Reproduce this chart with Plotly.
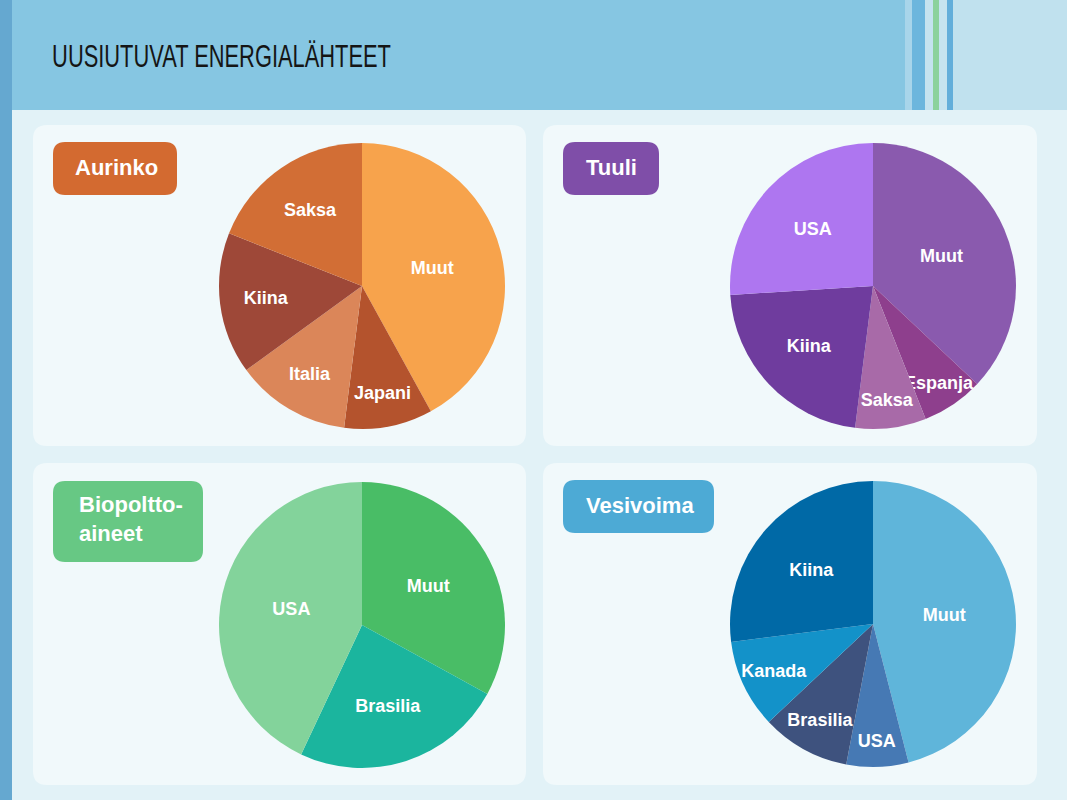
import plotly.graph_objects as go

W, H = 1067, 800

# ---- data ----
aurinko_labels = ["Muut", "Japani", "Italia", "Kiina", "Saksa"]
aurinko_values = [42, 10, 13, 16, 19]
aurinko_colors = ["#F7A34C", "#B4532D", "#DB8659", "#9E4838", "#D26E35"]

tuuli_labels = ["Muut", "Espanja", "Saksa", "Kiina", "USA"]
tuuli_values = [37, 7, 8, 22, 26]
tuuli_colors = ["#8A5AAE", "#8E3F8D", "#A86AA8", "#6F3C9E", "#AE76F0"]

bio_labels = ["Muut", "Brasilia", "USA"]
bio_values = [33, 24, 43]
bio_colors = ["#49BD66", "#1BB59E", "#83D39B"]

vesi_labels = ["Muut", "USA", "Brasilia", "Kanada", "Kiina"]
vesi_values = [46, 7, 10, 10, 27]
vesi_colors = ["#5FB5DA", "#4679B4", "#3E527E", "#1392C9", "#0069A6"]

title_text = "UUSIUTUVAT ENERGIALÄHTEET"
panel_titles = ["Aurinko", "Tuuli", "Biopoltto-<br>aineet", "Vesivoima"]
panel_title_colors = ["#D36A30", "#7F4EA8", "#67C884", "#4DAAD5"]


def px(x):
    return x / W


def py(y):
    return 1 - y / H


def rrect(x0, y0, x1, y1, r, color):
    X0, X1 = px(x0), px(x1)
    Y0, Y1 = py(y0), py(y1)
    rx, ry = r / W, r / H
    path = (
        f"M {X0+rx},{Y0} L {X1-rx},{Y0} Q {X1},{Y0} {X1},{Y0-ry} "
        f"L {X1},{Y1+ry} Q {X1},{Y1} {X1-rx},{Y1} "
        f"L {X0+rx},{Y1} Q {X0},{Y1} {X0},{Y1+ry} "
        f"L {X0},{Y0-ry} Q {X0},{Y0} {X0+rx},{Y0} Z"
    )
    return dict(type="path", xref="paper", yref="paper", path=path,
                fillcolor=color, line=dict(width=0), layer="below")


def rect(x0, y0, x1, y1, color):
    return dict(type="rect", xref="paper", yref="paper",
                x0=px(x0), x1=px(x1), y0=py(y1), y1=py(y0),
                fillcolor=color, line=dict(width=0), layer="below")


fig = go.Figure()


def add_pie(labels, values, colors, cx, cy, r):
    fig.add_trace(go.Pie(
        labels=labels, values=values, sort=False, direction="clockwise",
        rotation=0, marker=dict(colors=colors, line=dict(width=0)),
        textinfo="label", textposition="inside",
        insidetextorientation="horizontal",
        textfont=dict(family="Liberation Sans, Arial, sans-serif", size=18,
                      color="#FFFFFF", weight="bold"),
        domain=dict(x=[px(cx - r), px(cx + r)], y=[py(cy + r), py(cy - r)]),
        showlegend=False, hoverinfo="label+value",
    ))


add_pie(aurinko_labels, aurinko_values, aurinko_colors, 362, 286, 143)
add_pie(tuuli_labels, tuuli_values, tuuli_colors, 873, 286, 143)
add_pie(bio_labels, bio_values, bio_colors, 362, 625, 143)
add_pie(vesi_labels, vesi_values, vesi_colors, 873, 624, 143)

shapes = []
# body background
shapes.append(rect(0, 0, W, H, "#E2F2F7"))
# header
shapes.append(rect(0, 0, W, 110, "#86C6E2"))
shapes.append(rect(953, 0, W, 110, "#C0E1EE"))
shapes.append(rect(905, 0, 912, 110, "#A8D5EA"))
shapes.append(rect(912, 0, 925, 110, "#6CB6DD"))
shapes.append(rect(925, 0, 933, 110, "#C5E3EF"))
shapes.append(rect(933, 0, 939, 110, "#8CD29C"))
shapes.append(rect(939, 0, 947, 110, "#C5E3EF"))
shapes.append(rect(947, 0, 953, 110, "#62AEDA"))
# left strip
shapes.append(rect(0, 0, 12, H, "#65A8D0"))
# panels
for (x0, y0, x1, y1) in [(33, 125, 526, 446), (543, 125, 1037, 446),
                         (33, 463, 526, 785), (543, 463, 1037, 785)]:
    shapes.append(rrect(x0, y0, x1, y1, 14, "#F1F9FB"))
# panel title boxes
boxes = [(53, 142, 177, 195), (563, 142, 659, 195),
         (53, 481, 203, 562), (563, 480, 714, 533)]
for (b, c) in zip(boxes, panel_title_colors):
    shapes.append(rrect(*b, 12, c))

annotations = [dict(
    text=title_text, x=px(50), y=py(56), xref="paper", yref="paper",
    xanchor="left", yanchor="middle", showarrow=False,
    font=dict(family="Liberation Sans, Arial, sans-serif",
              size=32, color="#151515"),
)]
title_pos = [(73, 167), (584, 167), (77, 519), (584, 506)]
for (t, (x, y)) in zip(panel_titles, title_pos):
    annotations.append(dict(
        text=t, x=px(x), y=py(y), xref="paper", yref="paper",
        xanchor="left", yanchor="middle", align="left", showarrow=False,
        font=dict(family="Liberation Sans, Arial, sans-serif", size=22,
                  color="#FFFFFF", weight="bold"),
    ))

fig.update_layout(
    width=W, height=H, autosize=False,
    margin=dict(l=0, r=0, t=0, b=0),
    paper_bgcolor="#E2F2F7", plot_bgcolor="#E2F2F7",
    shapes=shapes, annotations=annotations,
    uniformtext=dict(minsize=18, mode="show"),
)

post = """
document.body.style.margin='0';
var gd = document.getElementById('{plot_id}');
gd.querySelectorAll('.annotation-text').forEach(function(t){
  if (t.textContent.indexOf('UUSIUTUVAT') === 0) {
    var bb = t.getBBox();
    var s = 339 / bb.width;
    var x0 = bb.x;
    var prev = t.getAttribute('transform') || '';
    t.setAttribute('transform', prev + ' translate(' + x0 + ',0) scale(' + s + ',1) translate(' + (-x0) + ',0)');
  }
});
"""

fig.write_html("out.html", config={"displayModeBar": False}, post_script=post)
